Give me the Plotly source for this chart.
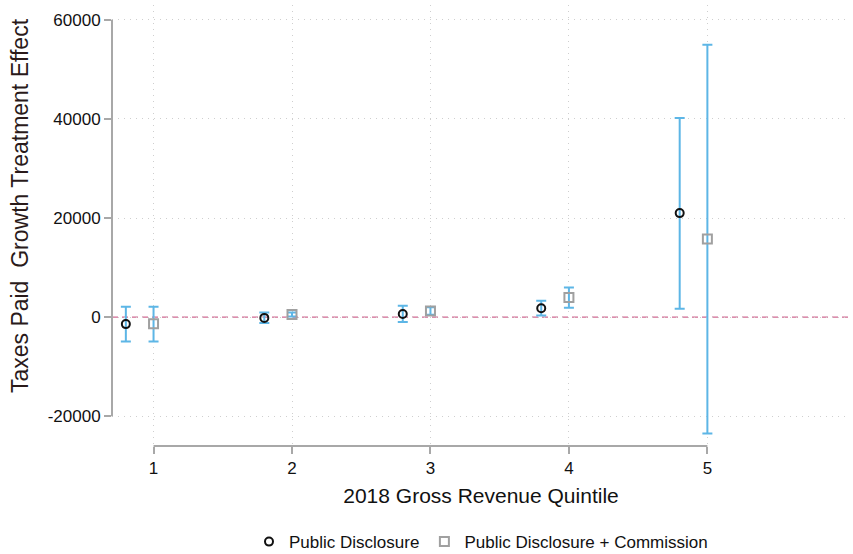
import plotly.graph_objects as go

# Quintile positions (Public Disclosure offset slightly left)
quintiles = [1, 2, 3, 4, 5]
offset_pd = -0.2

# Public Disclosure: point estimates and 95% CI bounds
pd_est = [-1400, -150, 650, 1800, 21000]
pd_lo = [-4900, -1200, -1000, 350, 1700]
pd_hi = [2100, 950, 2300, 3300, 40200]

# Public Disclosure + Commission: point estimates and 95% CI bounds
pdc_est = [-1350, 550, 1250, 3950, 15800]
pdc_lo = [-4900, 150, 500, 1900, -23500]
pdc_hi = [2100, 950, 2000, 6000, 55000]

y_ticks = [-20000, 0, 20000, 40000, 60000]
x_ticks = [1, 2, 3, 4, 5]

ci_color = "#5db6e6"
axis_gray = "#a8a8a8"
grid_gray = "#cfcfcf"

pd_x = [q + offset_pd for q in quintiles]


def err(est, lo, hi):
    return dict(
        type="data", symmetric=False,
        array=[h - e for e, h in zip(est, hi)],
        arrayminus=[e - l for e, l in zip(est, lo)],
        color=ci_color, thickness=2, width=5,
    )


fig = go.Figure()
fig.add_trace(go.Scatter(
    x=pd_x, y=pd_est, mode="markers", name="Public Disclosure",
    error_y=err(pd_est, pd_lo, pd_hi),
    marker=dict(symbol="circle-open", size=8, color="#111111", line=dict(width=2)),
))
fig.add_trace(go.Scatter(
    x=quintiles, y=pdc_est, mode="markers", name="Public Disclosure + Commission",
    error_y=err(pdc_est, pdc_lo, pdc_hi),
    marker=dict(symbol="square-open", size=9, color="#a0a0a0", line=dict(width=2)),
))

# zero reference line
fig.add_shape(type="line", xref="paper", x0=0, x1=1, yref="y", y0=0, y1=0,
              line=dict(color="#d06a92", width=1.3, dash="6px,4px"), layer="below")
# axis lines spanning only the tick range
fig.add_shape(type="line", xref="paper", x0=0, x1=0, yref="y",
              y0=y_ticks[0], y1=y_ticks[-1], line=dict(color=axis_gray, width=2))
fig.add_shape(type="line", xref="x", x0=x_ticks[0], x1=x_ticks[-1], yref="paper",
              y0=0, y1=0, line=dict(color=axis_gray, width=2))

# vertical axis title
fig.add_annotation(
    text="Taxes Paid\u00a0\u00a0Growth Treatment Effect", textangle=-90,
    xref="paper", x=0, xshift=-92, xanchor="center",
    yref="paper", y=0.544, yanchor="middle", showarrow=False,
    font=dict(size=23, color="#2a1a1a"),
)

fig.update_layout(
    width=853, height=554,
    margin=dict(l=112, r=3, t=5, b=108, autoexpand=False),
    paper_bgcolor="white", plot_bgcolor="white",
    font=dict(family="Liberation Sans, Arial, sans-serif", size=17, color="#111111"),
    showlegend=True,
    legend=dict(orientation="h", x=0.5, xanchor="center", y=-0.177, yanchor="top",
                font=dict(size=17), tracegroupgap=0),
    xaxis=dict(
        range=[0.7, 6.03], tickvals=x_ticks, ticktext=[str(t) for t in x_ticks],
        showgrid=True, gridcolor=grid_gray, griddash="1px,5px", gridwidth=1,
        zeroline=False, showline=False,
        ticks="outside", ticklen=7, tickwidth=2, tickcolor=axis_gray,
        tickfont=dict(size=17),
        title=dict(text="2018 Gross Revenue Quintile", font=dict(size=21), standoff=10),
    ),
    yaxis=dict(
        range=[-26000, 63000], tickvals=y_ticks, ticktext=[str(t) for t in y_ticks],
        showgrid=True, gridcolor=grid_gray, griddash="1px,5px", gridwidth=1,
        zeroline=False, showline=False,
        ticks="outside", ticklen=7, tickwidth=2, tickcolor=axis_gray,
        tickfont=dict(size=17),
    ),
)

fig.write_html("out.html")
